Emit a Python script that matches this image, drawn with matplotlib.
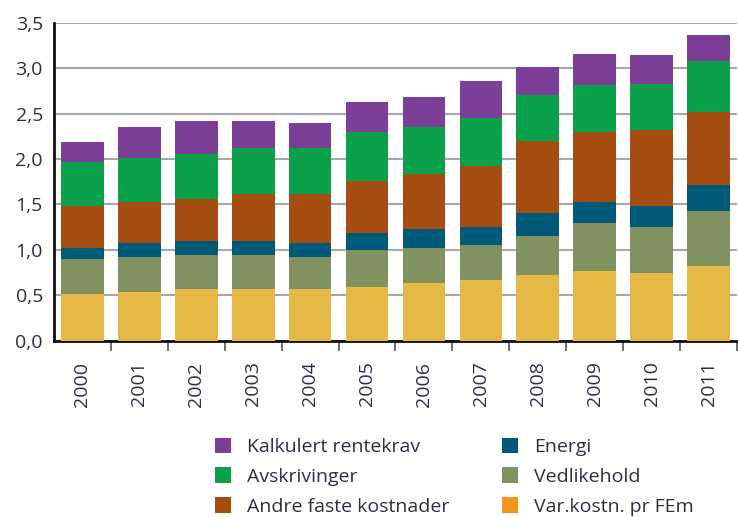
import matplotlib
matplotlib.use("Agg")
import matplotlib.pyplot as plt
from matplotlib.patches import Patch
import numpy as np

years = ["2000", "2001", "2002", "2003", "2004", "2005", "2006", "2007", "2008", "2009", "2010", "2011"]
var_kostn = [0.51, 0.54, 0.57, 0.57, 0.57, 0.59, 0.64, 0.67, 0.72, 0.77, 0.75, 0.82]
vedlikehold = [0.39, 0.38, 0.37, 0.37, 0.35, 0.41, 0.38, 0.38, 0.43, 0.53, 0.50, 0.61]
energi = [0.12, 0.15, 0.16, 0.16, 0.15, 0.18, 0.21, 0.20, 0.26, 0.23, 0.23, 0.28]
andre_faste = [0.46, 0.46, 0.46, 0.51, 0.54, 0.58, 0.61, 0.67, 0.79, 0.77, 0.84, 0.81]
avskrivinger = [0.49, 0.48, 0.50, 0.51, 0.51, 0.54, 0.51, 0.53, 0.50, 0.51, 0.51, 0.56]
rentekrav = [0.22, 0.34, 0.36, 0.30, 0.28, 0.33, 0.33, 0.41, 0.31, 0.35, 0.31, 0.29]
y_ticks = [0.0, 0.5, 1.0, 1.5, 2.0, 2.5, 3.0, 3.5]
y_labels = ["0,0", "0,5", "1,0", "1,5", "2,0", "2,5", "3,0", "3,5"]

series = [
    ("Var.kostn. pr FEm", var_kostn, "#E6B946"),
    ("Vedlikehold", vedlikehold, "#7F9260"),
    ("Energi", energi, "#005A78"),
    ("Andre faste kostnader", andre_faste, "#A64D11"),
    ("Avskrivinger", avskrivinger, "#0BA04A"),
    ("Kalkulert rentekrav", rentekrav, "#7B3F98"),
]

plt.rcParams['font.family'] = ['Open Sans', 'DejaVu Sans']
txt = "#2e2e44"

fig = plt.figure(figsize=(7.38, 5.17), dpi=100)
W, H = 738, 517
left, right, top, bottom = 54, 737, 22.7, 340.7
ax = fig.add_axes([left / W, 1 - bottom / H, (right - left) / W, (bottom - top) / H])

x = np.arange(len(years))
base = np.zeros(len(years))
for name, vals, col in series:
    ax.bar(x, vals, width=0.75, bottom=base, color=col, edgecolor='none', zorder=3)
    base += np.array(vals)

ax.set_ylim(0, 3.5)
ax.set_xlim(-0.5, -0.5 + (right - left) / 57.3)
ax.set_yticks(y_ticks)
ax.set_yticklabels(y_labels, fontsize=14, color=txt)
ax.tick_params(axis='y', length=0, pad=8)
ax.set_xticks(x)
ax.set_xticklabels(years, rotation=90, fontsize=14, color=txt)
ax.tick_params(axis='x', length=0, pad=15)
ax.set_xticks(np.arange(len(years)) + 0.5, minor=True)
ax.tick_params(axis='x', which='minor', length=7, width=1.2, color='#555555')
ax.grid(axis='y', color='#a8a8a8', linewidth=1.5, zorder=0)
ax.set_axisbelow(True)
for s in ['top', 'right']:
    ax.spines[s].set_visible(False)
ax.spines['left'].set_linewidth(2)
ax.spines['left'].set_color('#111111')
ax.spines['bottom'].set_linewidth(2)
ax.spines['bottom'].set_color('#111111')

legend_colors = {"Var.kostn. pr FEm": "#F7941D"}
order = [5, 4, 3, 2, 1, 0]
handles = [Patch(facecolor=legend_colors.get(series[i][0], series[i][2]), edgecolor='none',
                 label=series[i][0]) for i in order]
leg = fig.legend(handles=handles, ncol=2, frameon=False, loc='upper left',
                 bbox_to_anchor=(205 / W, 1 - 428 / H), fontsize=14,
                 handlelength=0.85, handleheight=0.85, handletextpad=0.8,
                 columnspacing=2.7, labelspacing=0.58, borderpad=0)
for t in leg.get_texts():
    t.set_color(txt)

fig.savefig("out.png", dpi=100)
